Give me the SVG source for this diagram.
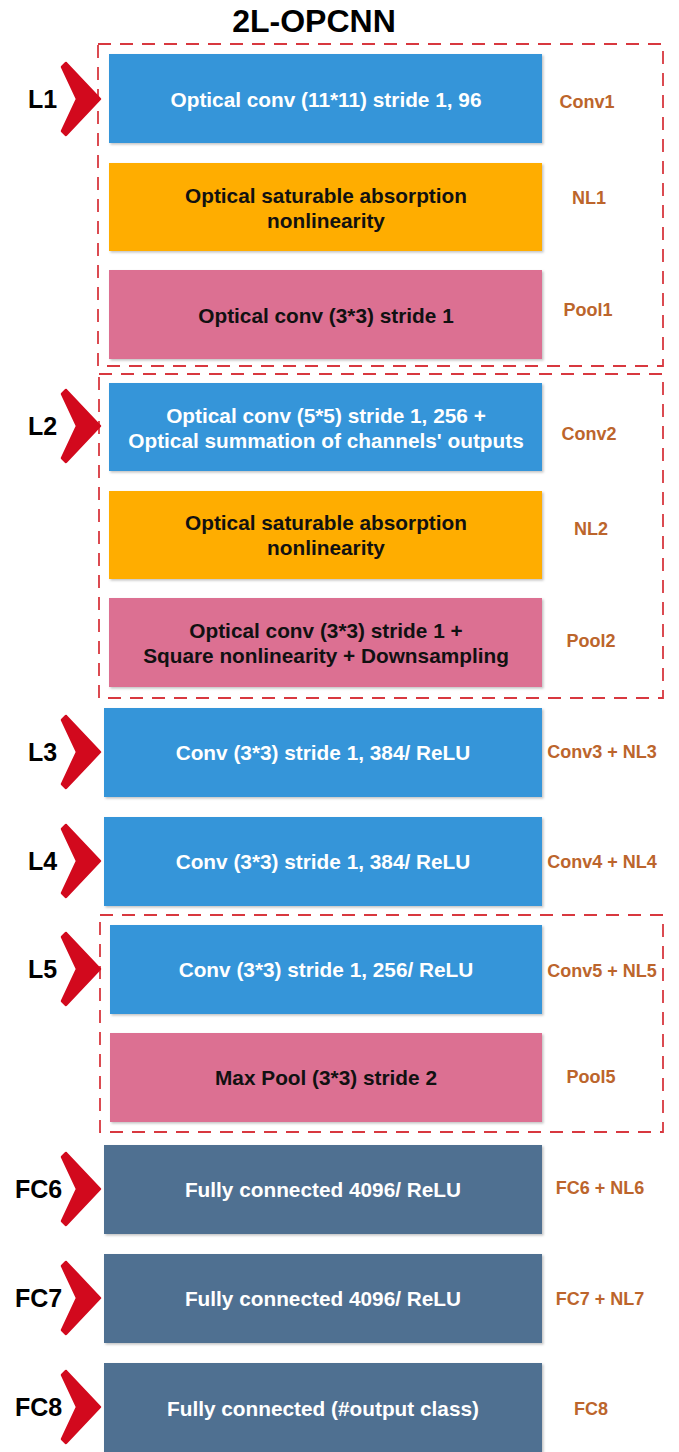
<svg xmlns="http://www.w3.org/2000/svg" xmlns:xlink="http://www.w3.org/1999/xlink" width="679" height="1452" viewBox="0 0 679 1452">
<defs>
<style>
.box{stroke:none;filter:url(#sh)}
.blue{fill:#3595d9}
.orange{fill:#ffad00}
.pink{fill:#dc6f92}
.slate{fill:#506f91}
.t{font-family:"Liberation Sans",Arial,sans-serif;font-weight:bold;font-size:20.8px;text-anchor:middle}
.w{fill:#ffffff}
.k{fill:#111111}
.side{font-family:"Liberation Sans",Arial,sans-serif;font-weight:bold;font-size:18px;fill:#bc652c;text-anchor:middle}
.lay{font-family:"Liberation Sans",Arial,sans-serif;font-weight:bold;font-size:25px;fill:#000000}
.title{font-family:"Liberation Sans",Arial,sans-serif;font-weight:bold;font-size:32px;fill:#000000;text-anchor:middle}
.grp{fill:none;stroke:#d8383f;stroke-width:1.8;stroke-dasharray:13 9}
.chev{fill:#d2091d;stroke:#d2091d;stroke-width:2.5;stroke-linejoin:round}
</style>
<filter id="sh" x="-5%" y="-5%" width="110%" height="115%">
<feDropShadow dx="1.5" dy="1.5" stdDeviation="1" flood-color="#777777" flood-opacity="0.45"/>
</filter>
<path id="chevron" class="chev" d="M -34 -36 L 0 0 L -34 36 L -38 32 L -23 0 L -38 -32 Z"/>
</defs>
<rect x="0" y="0" width="679" height="1452" fill="#ffffff"/>

<text class="title" x="314" y="32">2L-OPCNN</text>

<g id="groups">
<rect class="grp" x="98" y="44" width="565" height="322"/>
<rect class="grp" x="99" y="374" width="564" height="324"/>
<rect class="grp" x="100" y="915" width="563" height="217"/>
</g>

<g id="connectors">
<use xlink:href="#chevron" href="#chevron" x="100" y="99"/>
<use xlink:href="#chevron" href="#chevron" x="100" y="426"/>
<use xlink:href="#chevron" href="#chevron" x="100" y="752"/>
<use xlink:href="#chevron" href="#chevron" x="100" y="861"/>
<use xlink:href="#chevron" href="#chevron" x="100" y="969"/>
<use xlink:href="#chevron" href="#chevron" x="100" y="1189"/>
<use xlink:href="#chevron" href="#chevron" x="100" y="1298"/>
<use xlink:href="#chevron" href="#chevron" x="100" y="1407"/>
</g>

<g id="layer-labels">
<text class="lay" x="28" y="108">L1</text>
<text class="lay" x="28" y="435">L2</text>
<text class="lay" x="28" y="761">L3</text>
<text class="lay" x="28" y="870">L4</text>
<text class="lay" x="28" y="978">L5</text>
<text class="lay" x="15" y="1198">FC6</text>
<text class="lay" x="15" y="1307">FC7</text>
<text class="lay" x="15" y="1416">FC8</text>
</g>

<g id="conv1">
<rect class="box blue" x="109" y="54" width="433" height="89"/>
<text class="t w" x="326" y="107">Optical conv (11*11) stride 1, 96</text>
<text class="side" x="587" y="108">Conv1</text>
</g>
<g id="nl1">
<rect class="box orange" x="109" y="163" width="433" height="88"/>
<text class="t k" x="326" y="203">Optical saturable absorption</text>
<text class="t k" x="326" y="228">nonlinearity</text>
<text class="side" x="589" y="204">NL1</text>
</g>
<g id="pool1">
<rect class="box pink" x="109" y="270" width="433" height="89"/>
<text class="t k" x="326" y="323">Optical conv (3*3) stride 1</text>
<text class="side" x="588" y="316">Pool1</text>
</g>

<g id="conv2">
<rect class="box blue" x="109" y="383" width="433" height="88"/>
<text class="t w" x="326" y="423">Optical conv (5*5) stride 1, 256 +</text>
<text class="t w" x="326" y="448">Optical summation of channels' outputs</text>
<text class="side" x="589" y="440">Conv2</text>
</g>
<g id="nl2">
<rect class="box orange" x="109" y="491" width="433" height="88"/>
<text class="t k" x="326" y="530">Optical saturable absorption</text>
<text class="t k" x="326" y="555">nonlinearity</text>
<text class="side" x="591" y="535">NL2</text>
</g>
<g id="pool2">
<rect class="box pink" x="109" y="598" width="433" height="89"/>
<text class="t k" x="326" y="638">Optical conv (3*3) stride 1 +</text>
<text class="t k" x="326" y="663">Square nonlinearity + Downsampling</text>
<text class="side" x="591" y="647">Pool2</text>
</g>

<g id="conv3">
<rect class="box blue" x="104" y="708" width="438" height="89"/>
<text class="t w" x="323" y="760">Conv (3*3) stride 1, 384/ ReLU</text>
<text class="side" x="602" y="758">Conv3 + NL3</text>
</g>
<g id="conv4">
<rect class="box blue" x="104" y="817" width="438" height="89"/>
<text class="t w" x="323" y="869">Conv (3*3) stride 1, 384/ ReLU</text>
<text class="side" x="602" y="868">Conv4 + NL4</text>
</g>

<g id="conv5">
<rect class="box blue" x="110" y="925" width="432" height="89"/>
<text class="t w" x="326" y="977">Conv (3*3) stride 1, 256/ ReLU</text>
<text class="side" x="602" y="977">Conv5 + NL5</text>
</g>
<g id="pool5">
<rect class="box pink" x="110" y="1033" width="432" height="89"/>
<text class="t k" x="326" y="1085">Max Pool (3*3) stride 2</text>
<text class="side" x="591" y="1083">Pool5</text>
</g>

<g id="fc6">
<rect class="box slate" x="104" y="1145" width="438" height="89"/>
<text class="t w" x="323" y="1197">Fully connected 4096/ ReLU</text>
<text class="side" x="600" y="1194">FC6 + NL6</text>
</g>
<g id="fc7">
<rect class="box slate" x="104" y="1254" width="438" height="89"/>
<text class="t w" x="323" y="1306">Fully connected 4096/ ReLU</text>
<text class="side" x="600" y="1305">FC7 + NL7</text>
</g>
<g id="fc8">
<rect class="box slate" x="104" y="1363" width="438" height="89"/>
<text class="t w" x="323" y="1416">Fully connected (#output class)</text>
<text class="side" x="591" y="1415">FC8</text>
</g>
</svg>
